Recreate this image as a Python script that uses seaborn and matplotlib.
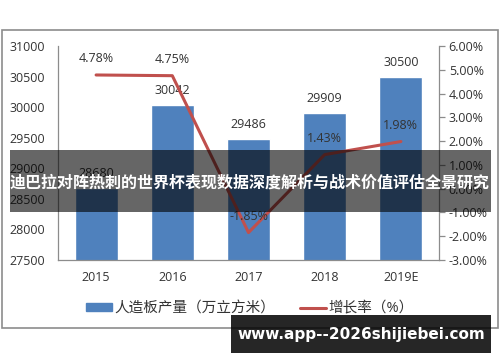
import matplotlib
matplotlib.use("Agg")
import matplotlib.pyplot as plt
from matplotlib.patches import Rectangle
from matplotlib.lines import Line2D
from matplotlib.ticker import FuncFormatter
import seaborn as sns
import pandas as pd

# data
years = ["2015", "2016", "2017", "2018", "2019E"]
output = [28680, 30042, 29486, 29909, 30500]          # 人造板产量（万立方米）
growth = [4.78, 4.75, -1.85, 1.43, 1.98]               # 增长率（%）

bar_name = "人造板产量（万立方米）"
line_name = "增长率（%）"
banner = "迪巴拉对阵热刺的世界杯表现数据深度解析与战术价值评估全景研究"
watermark = "www.app--2026shijiebei.com"

BLUE = "#4F81BD"
RED = "#C0504D"
GREY = "#8c8c8c"

sns.set_style("white")
plt.rcParams["font.family"] = ["Open Sans", "Noto Sans CJK SC", "DejaVu Sans"]

df = pd.DataFrame({"year": years, "output": output, "growth": growth})

fig = plt.figure(figsize=(5, 3.62), dpi=100)
ax = fig.add_axes([0.116, 0.282, 0.762, 0.591])

sns.barplot(data=df, x="year", y="output", color=BLUE, width=0.565,
            saturation=1, ax=ax)
ax.set_ylim(27500, 31000)
ax.set_yticks(range(27500, 31001, 500))
ax.set_xlim(-0.5, 4.5)
ax.set_xlabel("")
ax.set_ylabel("")
ax.tick_params(axis="y", length=0, pad=9, labelsize=9, labelcolor="#333333")
ax.tick_params(axis="x", length=0, pad=8, labelsize=9, labelcolor="#333333")
for s in ["top", "right"]:
    ax.spines[s].set_visible(False)
for s in ["left", "bottom"]:
    ax.spines[s].set_color(GREY)
    ax.spines[s].set_linewidth(0.9)

for i, v in enumerate(df["output"]):
    ax.text(i, v + 120, f"{v}", ha="center", va="bottom", fontsize=9,
            color="#333333")

ax2 = ax.twinx()
sns.lineplot(data=df, x="year", y="growth", color=RED, linewidth=2.2,
             ax=ax2, legend=False)
ax2.set_ylim(-3, 6)
ax2.set_yticks(range(-3, 7))
ax2.yaxis.set_major_formatter(FuncFormatter(lambda v, p: f"{v:.2f}%"))
ax2.set_ylabel("")
ax2.tick_params(axis="y", length=4, width=0.9, color=GREY, pad=3,
                labelsize=9, labelcolor="#333333")
for s in ["top", "left", "bottom"]:
    ax2.spines[s].set_visible(False)
ax2.spines["right"].set_color(GREY)
ax2.spines["right"].set_linewidth(0.9)

for i, v in enumerate(df["growth"]):
    ax2.text(i, v + 0.42, f"{v:.2f}%", ha="center", va="bottom", fontsize=9,
             color="#333333")

# legend
handles = [Rectangle((0, 0), 1, 1, color=BLUE),
           Line2D([0], [0], color=RED, linewidth=2.2)]
fig.legend(handles, [bar_name, line_name], loc="center",
           bbox_to_anchor=(0.5, 0.147), ncol=2, frameon=False, fontsize=10.5,
           handlelength=1.75, handleheight=0.45, handletextpad=0.2,
           columnspacing=1.7, labelcolor="#333333")

# outer chart frame
fig.patches.append(Rectangle((0.003, 0.094), 0.993, 0.823,
                             transform=fig.transFigure, fill=False,
                             edgecolor=GREY, linewidth=1.2, zorder=0))

# overlay banner
fig.patches.append(Rectangle((0.02, 0.414), 0.962, 0.172,
                             transform=fig.transFigure, facecolor="black",
                             alpha=0.6, edgecolor="none", zorder=10))
fig.text(0.5, 0.497, banner, ha="center", va="center", color="white",
         fontsize=11.5, fontweight="bold", family=["Noto Sans CJK SC"],
         zorder=11)

# watermark box
fig.patches.append(Rectangle((0.462, 0.025), 0.52, 0.105,
                             transform=fig.transFigure, facecolor="black",
                             alpha=0.85, edgecolor="none", zorder=10))
fig.text(0.722, 0.077, watermark, ha="center", va="center", color="white",
         fontsize=11, fontweight="bold", family=["DejaVu Sans"], zorder=11)

fig.savefig("out.png", dpi=100)
